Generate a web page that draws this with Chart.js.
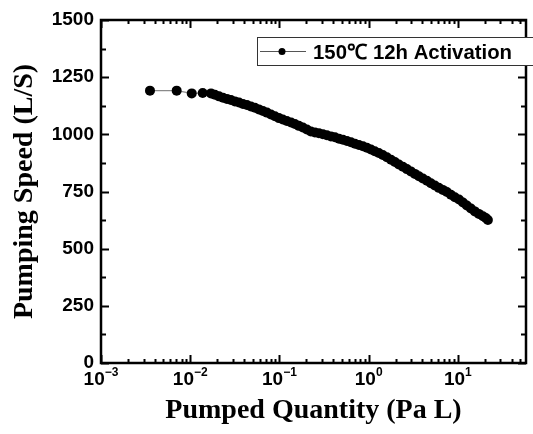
<!DOCTYPE html>
<html>
<head>
    <title>Pumping Speed vs Pumped Quantity</title>
    <script src="https://cdn.jsdelivr.net/npm/chart.js"></script>
    <style>
        body { margin: 0; background: #fff; }
        .chart-container { width: 533px; height: 434px; }
    </style>
</head>
<body>
    <div class="chart-container">
        <canvas id="speedChart"></canvas>
    </div>

    <script>
        // Pumped quantity (Pa L) and pumping speed (L/S)
        const pumpedQuantity = [
            0.00354, 0.00705, 0.0104, 0.0138, 0.0171, 0.0189, 0.0210, 0.0233, 0.0258, 0.0286,
            0.0317, 0.0352, 0.0390, 0.0432, 0.0479, 0.0531, 0.0589, 0.0653, 0.0724, 0.0803,
            0.0890, 0.0987, 0.109, 0.121, 0.135, 0.149, 0.165, 0.183, 0.203, 0.225,
            0.250, 0.277, 0.307, 0.340, 0.378, 0.419, 0.465, 0.515, 0.571, 0.633,
            0.702, 0.778, 0.863, 0.956, 1.06, 1.17, 1.30, 1.44, 1.60, 1.78,
            1.97, 2.18, 2.42, 2.68, 2.97, 3.30, 3.66, 4.05, 4.50, 4.98,
            5.52, 6.12, 6.79, 7.53, 8.35, 9.25, 10.3, 11.4, 12.6, 14.0,
            15.5, 17.2, 19.1, 20.6, 21.7
        ];
        const pumpingSpeed = [
            1191, 1191, 1179, 1181, 1179, 1173, 1166, 1160, 1155, 1150,
            1144, 1139, 1133, 1128, 1122, 1116, 1109, 1102, 1095, 1087,
            1079, 1071, 1065, 1058, 1052, 1045, 1037, 1030, 1021, 1012,
            1008, 1005, 1000, 996, 991, 987, 981, 976, 971, 965,
            959, 953, 948, 941, 934, 926, 918, 910, 900, 889,
            879, 868, 858, 848, 838, 827, 817, 807, 797, 786,
            776, 766, 757, 748, 736, 725, 715, 702, 689, 676,
            663, 652, 642, 634, 625
        ];
        const xDecades = [-3, -2, -1, 0, 1];
        const yTicks = [0, 250, 500, 750, 1000, 1250, 1500];
        const seriesName = '150\u2103 12h Activation';

        const supDigits = { '-': '\u2212', '0': '0', '1': '1', '2': '2', '3': '3' };

        // inward ticks, frame, x labels with superscripts, legend
        const decorations = {
            id: 'decorations',
            afterDraw(chart) {
                const { ctx, chartArea: a, scales: { x, y } } = chart;
                ctx.save();
                ctx.strokeStyle = '#000';
                ctx.lineWidth = 2.5;
                ctx.strokeRect(a.left, a.top, a.right - a.left, a.bottom - a.top);

                ctx.lineWidth = 2;
                ctx.beginPath();
                for (let v = 0; v <= 1500; v += 125) {
                    const py = Math.round(y.getPixelForValue(v)) + 0.5;
                    const len = v % 250 === 0 ? 8 : 5;
                    ctx.moveTo(a.left, py); ctx.lineTo(a.left + len, py);
                    ctx.moveTo(a.right, py); ctx.lineTo(a.right - len, py);
                }
                for (const d of xDecades) {
                    for (let m = 1; m <= 9; m++) {
                        const v = m * Math.pow(10, d);
                        if (v > x.max) break;
                        const px = Math.round(x.getPixelForValue(v)) + 0.5;
                        const len = m === 1 ? 8 : 4;
                        ctx.moveTo(px, a.bottom); ctx.lineTo(px, a.bottom - len);
                        ctx.moveTo(px, a.top); ctx.lineTo(px, a.top + len);
                    }
                }
                ctx.stroke();

                // x tick labels 10^n
                ctx.fillStyle = '#000';
                ctx.textBaseline = 'alphabetic';
                for (const d of xDecades) {
                    const px = x.getPixelForValue(Math.pow(10, d));
                    ctx.font = 'bold 19px "Liberation Sans", Arial, sans-serif';
                    const base = '10';
                    const exp = String(d).split('').map(c => supDigits[c]).join('');
                    const wb = ctx.measureText(base).width;
                    ctx.font = 'bold 12px "Liberation Sans", Arial, sans-serif';
                    const we = ctx.measureText(exp).width;
                    const left = px - (wb + we) / 2;
                    ctx.font = 'bold 19px "Liberation Sans", Arial, sans-serif';
                    ctx.textAlign = 'left';
                    ctx.fillText(base, left, a.bottom + 22);
                    ctx.font = 'bold 12px "Liberation Sans", Arial, sans-serif';
                    ctx.fillText(exp, left + wb, a.bottom + 13);
                }

                // legend box
                const lx = 257, ly = 37, lh = 28;
                ctx.fillStyle = '#fff';
                ctx.fillRect(lx, ly, 533 - lx, lh);
                ctx.strokeStyle = '#333';
                ctx.lineWidth = 1;
                ctx.strokeRect(lx + 0.5, ly + 0.5, 540 - lx, lh);
                ctx.strokeStyle = '#555';
                ctx.beginPath();
                ctx.moveTo(260, ly + lh / 2 + 0.5); ctx.lineTo(306, ly + lh / 2 + 0.5);
                ctx.stroke();
                ctx.fillStyle = '#000';
                ctx.beginPath();
                ctx.arc(282, ly + lh / 2 + 0.5, 3.5, 0, Math.PI * 2);
                ctx.fill();
                ctx.font = 'bold 21px "Liberation Sans", Arial, sans-serif';
                const tw = ctx.measureText(seriesName).width;
                ctx.translate(313, ly + 22);
                ctx.scale(199 / tw, 1);
                ctx.fillText(seriesName, 0, 0);
                ctx.restore();
            }
        };

        const ctx = document.getElementById('speedChart').getContext('2d');
        new Chart(ctx, {
            type: 'line',
            data: {
                datasets: [{
                    label: seriesName,
                    data: pumpedQuantity.map((q, i) => ({ x: q, y: pumpingSpeed[i] })),
                    borderColor: '#8a8a8a',
                    borderWidth: 1.2,
                    pointBackgroundColor: '#000',
                    pointBorderColor: '#000',
                    pointBorderWidth: 0,
                    pointRadius: 5,
                    tension: 0
                }]
            },
            options: {
                responsive: true,
                maintainAspectRatio: false,
                devicePixelRatio: 1,
                animation: false,
                layout: { padding: { top: 20, right: 7, left: 8, bottom: 6 } },
                plugins: {
                    legend: { display: false },
                    tooltip: { enabled: false }
                },
                scales: {
                    x: {
                        type: 'logarithmic',
                        min: 0.001,
                        max: 58,
                        afterBuildTicks: s => { s.ticks = xDecades.map(d => ({ value: Math.pow(10, d) })); },
                        afterFit: s => { s.height = 65; },
                        grid: { display: false, drawTicks: false },
                        border: { display: false },
                        ticks: { display: false },
                        title: {
                            display: true,
                            text: 'Pumped Quantity (Pa L)',
                            color: '#000',
                            font: { family: '"Liberation Serif", "Times New Roman", serif', size: 28, weight: 'bold' },
                            padding: 0
                        }
                    },
                    y: {
                        min: 0,
                        max: 1500,
                        afterBuildTicks: s => { s.ticks = yTicks.map(v => ({ value: v })); },
                        afterFit: s => { s.width = 93; },
                        grid: { display: false, drawTicks: false },
                        border: { display: false },
                        ticks: {
                            color: '#000',
                            padding: 7,
                            callback: v => String(v),
                            font: { family: '"Liberation Sans", Arial, sans-serif', size: 19, weight: 'bold' }
                        },
                        title: {
                            display: true,
                            text: 'Pumping Speed (L/S)',
                            color: '#000',
                            font: { family: '"Liberation Serif", "Times New Roman", serif', size: 28, weight: 'bold' },
                            padding: { top: 0, bottom: 0 }
                        }
                    }
                }
            },
            plugins: [decorations]
        });
    </script>
</body>
</html>
